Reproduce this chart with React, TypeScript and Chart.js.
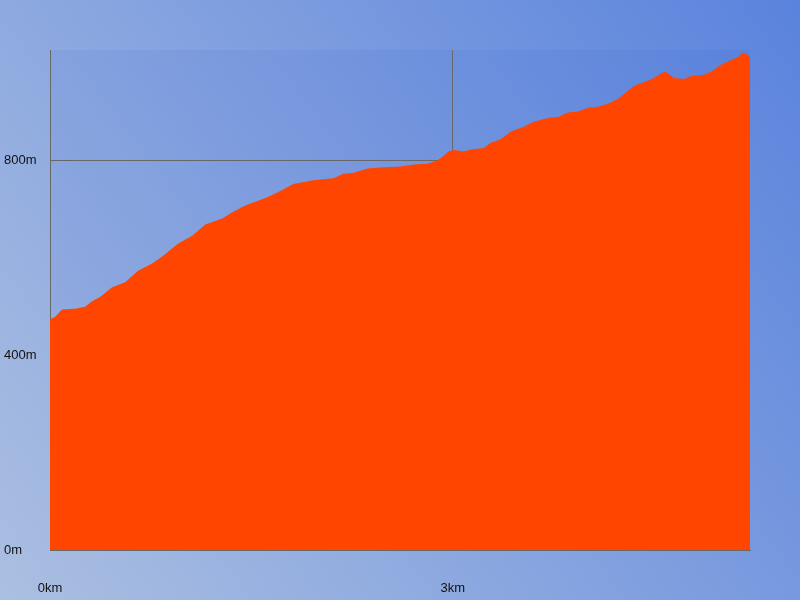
import React, { useEffect, useRef } from "react";
import { Chart, registerables } from "chart.js";

Chart.register(...registerables);

const distanceKm = [
  0.0, 0.037, 0.09, 0.187, 0.261, 0.313, 0.373, 0.463, 0.56, 0.657, 0.761, 0.836, 0.955, 1.06,
  1.157, 1.284, 1.358, 1.455, 1.515, 1.619, 1.716, 1.813, 1.963, 2.112, 2.187, 2.261, 2.366,
  2.463, 2.612, 2.709, 2.813, 2.888, 2.933, 2.97, 3.007, 3.082, 3.134, 3.231, 3.284, 3.358,
  3.433, 3.53, 3.604, 3.709, 3.784, 3.858, 3.933, 4.007, 4.082, 4.157, 4.231, 4.276, 4.351,
  4.425, 4.5, 4.552, 4.582, 4.612, 4.649, 4.724, 4.776, 4.866, 4.925, 5.0, 5.075, 5.127,
  5.157, 5.187, 5.201, 5.215,
];
const elevationM = [
  474, 479, 494, 496, 500, 511, 520, 540, 550, 574, 589, 603, 630, 646, 669, 681, 694, 708,
  714, 725, 738, 752, 760, 764, 773, 775, 784, 786, 788, 792, 794, 801, 810, 819, 822, 819,
  823, 826, 837, 844, 860, 870, 880, 888, 890, 899, 901, 909, 911, 917, 927, 937, 954, 961,
  970, 979, 983, 978, 970, 968, 974, 976, 983, 997, 1007, 1013, 1022, 1020, 1015, 1013,
];
const xTickValues = [0, 3];
const yTickValues = [0, 400, 800];
const xMaxKm = 5.215;
const yMaxM = 1027.5;

const bgPlugin = {
  id: "bgPlugin",
  beforeDraw(chart: any) {
    const { ctx, width, height, chartArea } = chart;
    ctx.save();
    const g = ctx.createLinearGradient(0, height, width, 0);
    g.addColorStop(0, "#abbfe1");
    g.addColorStop(1, "#5a83dd");
    ctx.fillStyle = g;
    ctx.fillRect(0, 0, width, height);
    ctx.fillStyle = "rgba(30,70,210,0.07)";
    ctx.fillRect(chartArea.left, chartArea.top, chartArea.right - chartArea.left, chartArea.bottom - chartArea.top);
    ctx.restore();
  },
};

export default function App() {
  const ref = useRef<HTMLCanvasElement>(null);
  useEffect(() => {
    if (!ref.current) return;
    const data = distanceKm.map((x, i) => ({ x, y: elevationM[i] }));
    const chart = new Chart(ref.current, {
      type: "line",
      data: {
        datasets: [
          {
            data,
            fill: "origin",
            backgroundColor: "#ff4500",
            borderWidth: 0,
            pointRadius: 0,
            tension: 0,
          },
        ],
      },
      options: {
        animation: false,
        responsive: false,
        layout: { padding: { left: 4, top: 50, right: 50, bottom: 0 } },
        plugins: { legend: { display: false }, tooltip: { enabled: false } },
        scales: {
          x: {
            type: "linear",
            min: 0,
            max: xMaxKm,
            z: 1,
            afterBuildTicks: (s: any) => {
              s.ticks = xTickValues.map((v) => ({ value: v }));
            },
            afterFit: (s: any) => {
              s.height = 50;
            },
            grid: { color: "#686868", lineWidth: 1, drawTicks: false },
            border: { color: "#686868", width: 1 },
            ticks: {
              padding: 31,
              color: "#111",
              font: { family: "Liberation Sans", size: 13 },
              maxRotation: 0,
              callback: (v: any) => `${v}km`,
            },
          },
          y: {
            type: "linear",
            min: 0,
            max: yMaxM,
            z: 1,
            afterBuildTicks: (s: any) => {
              s.ticks = yTickValues.map((v) => ({ value: v }));
            },
            afterFit: (s: any) => {
              s.width = 46;
            },
            grid: { color: "#686868", lineWidth: 1, drawTicks: false },
            border: { color: "#686868", width: 1 },
            ticks: {
              crossAlign: "far",
              padding: 0,
              color: "#111",
              font: { family: "Liberation Sans", size: 13 },
              callback: (v: any) => `${v}m`,
            },
          },
        },
      },
      plugins: [bgPlugin],
    });
    return () => chart.destroy();
  }, []);
  return (
    <div style={{ position: "fixed", left: 0, top: 0, width: 800, height: 600 }}>
      <canvas ref={ref} width={800} height={600} style={{ display: "block", width: 800, height: 600 }} />
    </div>
  );
}
